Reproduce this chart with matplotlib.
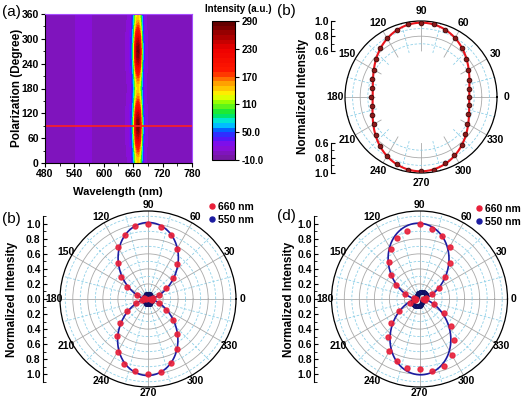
import numpy as np
import matplotlib.pyplot as plt
from matplotlib.colors import LinearSegmentedColormap
from matplotlib.lines import Line2D
from matplotlib.ticker import FixedLocator, FuncFormatter

plt.rcParams['font.family'] = ['Liberation Sans', 'DejaVu Sans']
plt.rcParams['font.weight'] = 'bold'
plt.rcParams['axes.labelweight'] = 'bold'
plt.rcParams['font.size'] = 7.5

# ---- (a) PL map: background + peak profile, modulated by polarization ----
wl = [480, 490, 500, 510, 520, 530, 540, 550, 560, 570, 580, 590, 600, 610, 620, 630,
      640, 650, 655, 658, 661, 664, 667, 670, 673, 676, 679, 682, 686, 690, 700, 710,
      720, 730, 740, 750, 760, 770, 780]
bg = [4, 2, 5, 3, 6, 8, 9, 16, 20, 15, 6, 3, 5, 2, 4, 3,
      6, 8, 10, 12, 12, 12, 12, 12, 12, 12, 10, 8, 7, 6, 4, 2,
      5, 3, 6, 2, 4, 5, 3]
peak = [0, 0, 0, 0, 0, 0, 0, 0, 0, 0, 0, 0, 0, 0, 0, 0,
        2, 6, 20, 45, 100, 190, 255, 270, 240, 160, 70, 25, 8, 3, 0, 0,
        0, 0, 0, 0, 0, 0, 0]
pol_angle = [0, 15, 30, 45, 60, 75, 90, 105, 120, 135, 150, 165, 180,
             195, 210, 225, 240, 255, 270, 285, 300, 315, 330, 345, 360]
pol_factor = [0.48, 0.51, 0.60, 0.72, 0.85, 0.95, 1.0, 0.96, 0.86, 0.73, 0.61, 0.52, 0.48,
              0.52, 0.61, 0.73, 0.86, 0.96, 1.0, 0.95, 0.85, 0.72, 0.60, 0.51, 0.48]
cbar_ticks = [-10, 50, 110, 170, 230, 290]
cbar_labels = ['-10.0', '50.0', '110', '170', '230', '290']

# ---- polar data, every 10 degrees ----
ang = np.arange(0, 360, 10)
r_top = [0.63, 0.64, 0.67, 0.72, 0.78, 0.84, 0.89, 0.94, 0.97, 0.98, 0.97, 0.94, 0.90, 0.84, 0.77, 0.72, 0.68, 0.66,
         0.66, 0.66, 0.68, 0.72, 0.78, 0.84, 0.90, 0.94, 0.97, 0.98, 0.97, 0.93, 0.88, 0.83, 0.76, 0.70, 0.66, 0.64]
r660_c = [0.03, 0.07, 0.16, 0.28, 0.44, 0.61, 0.77, 0.90, 0.97, 1.00, 0.98, 0.91, 0.80, 0.63, 0.46, 0.33, 0.16, 0.06,
          0.02, 0.08, 0.17, 0.32, 0.49, 0.65, 0.81, 0.92, 0.97, 1.00, 0.98, 0.90, 0.76, 0.60, 0.43, 0.28, 0.15, 0.06]
r550_c = [0.048, 0.049, 0.051, 0.054, 0.057, 0.060, 0.063, 0.065, 0.066, 0.066, 0.066, 0.065, 0.063, 0.060, 0.057, 0.054, 0.051, 0.049,
          0.048, 0.049, 0.051, 0.054, 0.057, 0.060, 0.063, 0.065, 0.066, 0.066, 0.066, 0.065, 0.063, 0.060, 0.057, 0.054, 0.051, 0.049]
r660_d = [0.05, 0.09, 0.18, 0.30, 0.45, 0.63, 0.80, 0.89, 0.94, 1.00, 0.92, 0.86, 0.77, 0.64, 0.50, 0.36, 0.20, 0.08,
          0.04, 0.06, 0.14, 0.31, 0.50, 0.66, 0.80, 0.88, 0.93, 0.93, 0.97, 0.95, 0.86, 0.72, 0.55, 0.37, 0.20, 0.08]
r550_d = [0.070, 0.080, 0.090, 0.099, 0.106, 0.110, 0.110, 0.106, 0.099, 0.090, 0.080, 0.070, 0.061, 0.055, 0.051, 0.050, 0.053, 0.060,
          0.070, 0.080, 0.090, 0.099, 0.106, 0.110, 0.110, 0.106, 0.099, 0.090, 0.080, 0.070, 0.061, 0.055, 0.051, 0.050, 0.053, 0.060]

GRID_SOLID = '#a9a9a9'
GRID_DASH = '#8fd0e8'
RED = '#e8203a'
NAVY = '#1c1ca0'

fig = plt.figure(figsize=(5.28, 3.99), dpi=100)


def px(x0, y0, w, h):
    return [x0 / 528, 1 - (y0 + h) / 399, w / 528, h / 399]


# ---------------- (a) ----------------
cmap = LinearSegmentedColormap.from_list('origin_rainbow', [
    (0.00, (0.45, 0.10, 0.60)), (0.10, (0.55, 0.05, 0.90)), (0.167, (0.25, 0.10, 1.0)),
    (0.217, (0.0, 0.40, 1.0)), (0.267, (0.0, 0.90, 1.0)), (0.333, (0.0, 0.90, 0.25)),
    (0.417, (0.60, 1.0, 0.0)), (0.467, (1.0, 1.0, 0.0)), (0.567, (1.0, 0.55, 0.0)),
    (0.633, (1.0, 0.10, 0.0)), (0.80, (0.93, 0.0, 0.0)), (1.0, (0.35, 0.0, 0.0))])

Z = np.array(bg)[None, :] + np.array(pol_factor)[:, None] * np.array(peak)[None, :]
ax = fig.add_axes(px(45, 14, 147, 149))
cs = ax.contourf(wl, pol_angle, Z, levels=np.arange(-10, 300, 10), cmap=cmap)
ax.axhline(90, color='#ff2020', lw=1.2)
ax.set_xlim(480, 780)
ax.set_ylim(0, 360)
ax.set_xticks(range(480, 781, 60))
ax.set_xticks(range(510, 781, 60), minor=True)
ax.set_yticks(range(0, 361, 60))
ax.set_yticks(range(30, 361, 60), minor=True)
ax.tick_params(which='major', direction='out', length=3, width=0.8, pad=1.5)
ax.tick_params(which='minor', direction='out', length=1.8, width=0.6)
for s in ['top', 'right']:
    ax.spines[s].set_color('#a64dff')
fig.text(118 / 528, 1 - 192 / 399, 'Wavelength (nm)', ha='center', va='center', fontsize=8)
fig.text(17 / 528, 1 - 88 / 399, 'Polarization (Degree)', ha='center', va='center',
         rotation=90, fontsize=8.5)

cax = fig.add_axes(px(212, 21, 23, 139))
cb = fig.colorbar(cs, cax=cax, ticks=cbar_ticks)
cb.ax.set_ylim(-10, 290)
cb.set_ticklabels(cbar_labels)
cb.ax.tick_params(direction='out', length=3, width=0.8, labelsize=7, pad=1.5)
cb.outline.set_linewidth(0.8)
fig.text(205 / 528, 1 - 9 / 399, 'Intensity (a.u.)', va='center', fontsize=7)


# ---------------- polar helpers ----------------
def fit_cos2(theta_deg, r):
    t = np.radians(theta_deg)
    A = np.column_stack([np.ones_like(t), np.cos(2 * t), np.sin(2 * t)])
    coef = np.linalg.lstsq(A, np.asarray(r), rcond=None)[0]
    tt = np.linspace(0, 2 * np.pi, 721)
    rr = coef[0] + coef[1] * np.cos(2 * tt) + coef[2] * np.sin(2 * tt)
    # negative radii are drawn through the origin
    tt = np.where(rr < 0, tt + np.pi, tt)
    return tt, np.abs(rr)


def polar_axes(pos, rmin, rmax, rmajor, rminor, pad):
    p = fig.add_axes(pos, projection='polar')
    p.set_rlim(rmin, rmax)
    p.set_rorigin(0)
    p.set_xticks(np.radians(np.arange(0, 360, 30)))
    p.set_xticklabels([str(d) for d in range(0, 360, 30)])
    p.set_xticks(np.radians(np.arange(15, 360, 30)), minor=True)
    p.yaxis.set_major_locator(FixedLocator(rmajor))
    p.yaxis.set_minor_locator(FixedLocator(rminor))
    p.set_yticklabels([])
    p.tick_params(axis='y', which='both', length=0)
    p.tick_params(axis='x', which='both', length=0, pad=pad)
    p.tick_params(axis='x', labelsize=7.5)
    p.grid(True, which='major', color=GRID_SOLID, lw=0.6, ls='-')
    p.grid(True, which='minor', color=GRID_DASH, lw=0.6, ls=(0, (3, 2)))
    p.spines['polar'].set_linewidth(0.9)
    p.spines['inner'].set_linewidth(0)
    p.spines['inner'].set_edgecolor('none')
    return p


def bracket(pos, rmax, lo, hi, xoff, ticks, minors):
    b = fig.add_axes(pos, facecolor='none')
    b.set_ylim(-rmax, rmax)
    b.set_xlim(0, 1)
    for s in ['top', 'right', 'bottom']:
        b.spines[s].set_visible(False)
    b.spines['left'].set_position(('axes', xoff))
    b.spines['left'].set_bounds(lo, hi)
    b.spines['left'].set_linewidth(0.8)
    b.set_xticks([])
    b.set_yticks(ticks)
    b.set_yticks(minors, minor=True)
    b.yaxis.set_major_formatter(FuncFormatter(lambda v, _: '%.1f' % abs(v)))
    b.tick_params(axis='y', which='major', direction='in', length=3, width=0.8, pad=1.5, labelsize=7.5)
    b.tick_params(axis='y', which='minor', direction='in', length=1.8, width=0.6)
    b.patch.set_visible(False)
    return b


# ---------------- (b) top ----------------
pos_b = px(345, 21, 152, 152)
pb = polar_axes(pos_b, 0.6, 1.0, [0.8], [0.7, 0.9], 0)
tt, rr = fit_cos2(ang, r_top)
pb.plot(tt, rr, color='#e8141c', lw=1.5, zorder=3)
pb.plot(np.radians(ang), r_top, 'o', ms=3.4, mfc='#8a1a1a', mec='#3a0505', mew=0.6, zorder=4)
bracket(pos_b, 1.0, 0.6, 1.0, -0.092, [0.6, 0.8, 1.0], [0.7, 0.9])
bracket(pos_b, 1.0, -1.0, -0.6, -0.092, [-1.0, -0.8, -0.6], [-0.9, -0.7])
fig.text(303 / 528, 1 - 96 / 399, 'Normalized Intensity', ha='center', va='center',
         rotation=90, fontsize=8.5)

RMAX = 1.17
rmaj = [0.2, 0.4, 0.6, 0.8, 1.0]
rmin_ = [0.1, 0.3, 0.5, 0.7, 0.9, 1.1]
ticks_full = [-1.0, -0.8, -0.6, -0.4, -0.2, 0.0, 0.2, 0.4, 0.6, 0.8, 1.0]
minors_full = [-1.1, -0.9, -0.7, -0.5, -0.3, -0.1, 0.1, 0.3, 0.5, 0.7, 0.9, 1.1]

legend_handles = [Line2D([], [], ls='none', marker='o', ms=3.6, mfc=RED, mec=RED),
                  Line2D([], [], ls='none', marker='o', ms=3.6, mfc=NAVY, mec=NAVY)]


def lower_panel(pos, r660, r550, xoff, ylab_x, cy, leg_xy):
    p = polar_axes(pos, 0, RMAX, rmaj, rmin_, -2.5)
    tt, rr = fit_cos2(ang, r660)
    p.plot(tt, rr, color=NAVY, lw=1.2, zorder=3)
    t5 = np.radians(np.append(ang, ang[0]))
    p.plot(t5, np.append(r550, r550[0]), '-o', color=NAVY, lw=1.4, ms=2.6,
           mfc=NAVY, mec='#101060', zorder=4)
    p.plot(np.radians(ang), r660, 'o', ms=3.6, mfc=RED, mec=RED, alpha=0.9, zorder=5)
    bracket(pos, RMAX, -1.1, 1.1, xoff, ticks_full, minors_full)
    fig.text(ylab_x / 528, 1 - cy / 399, 'Normalized Intensity', ha='center', va='center',
             rotation=90, fontsize=8.5)
    p.legend(legend_handles, ['660 nm', '550 nm'], loc='upper left',
             bbox_to_anchor=(leg_xy[0] / 528, 1 - leg_xy[1] / 399),
             bbox_transform=fig.transFigure, frameon=False, fontsize=7.5,
             handlelength=0.7, handletextpad=0.3, borderpad=0, borderaxespad=0,
             labelspacing=0.25)
    return p


lower_panel(px(60, 211, 176, 176), r660_c, r550_c, -0.098, 12, 299, (208, 202))
lower_panel(px(331.5, 211, 176, 176), r660_d, r550_d, -0.1, 289, 299, (475, 204))

fig.text(2 / 528, 1 - 12 / 399, '(a)', va='center', fontsize=11, fontweight='normal')
fig.text(277 / 528, 1 - 11 / 399, '(b)', va='center', fontsize=11, fontweight='normal')
fig.text(2 / 528, 1 - 219 / 399, '(b)', va='center', fontsize=11, fontweight='normal')
fig.text(277 / 528, 1 - 216 / 399, '(d)', va='center', fontsize=11, fontweight='normal')

fig.savefig('out.png', dpi=100)
